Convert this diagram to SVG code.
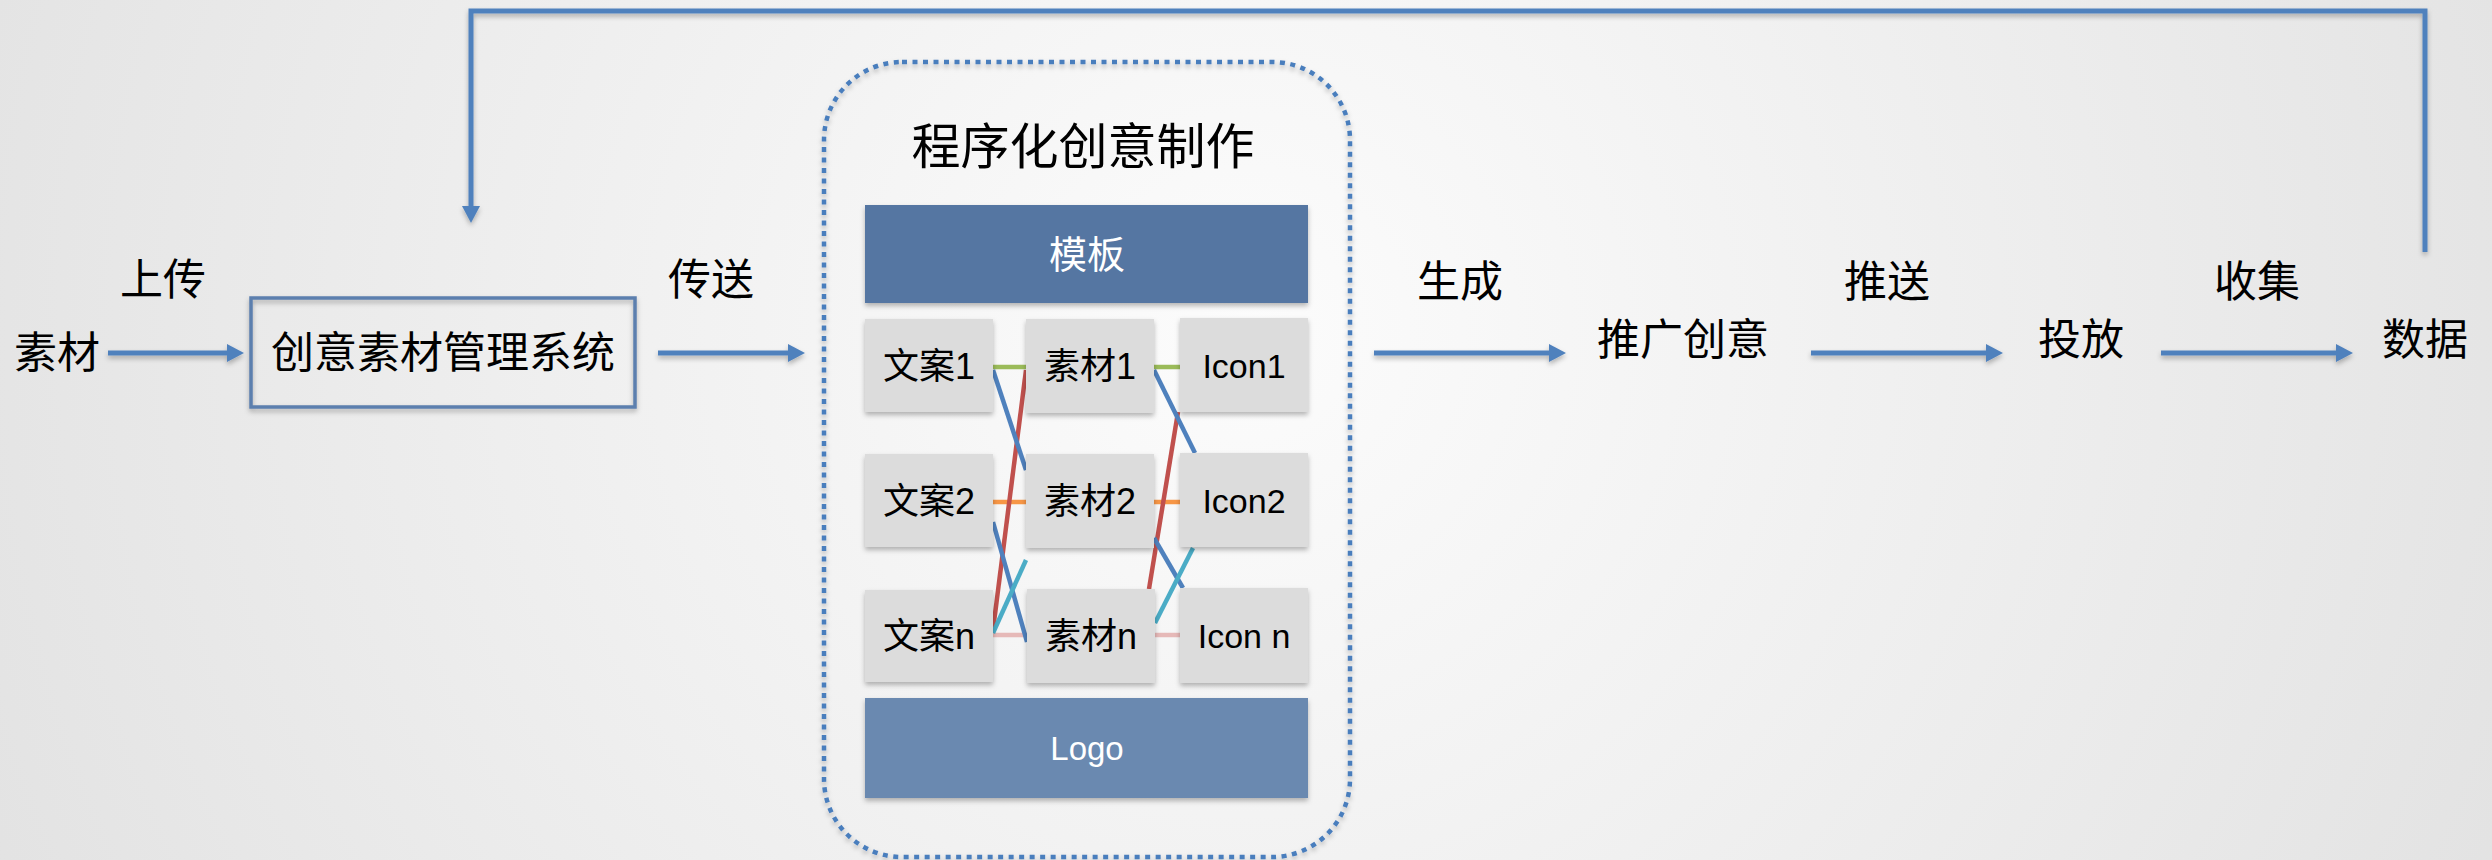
<svg xmlns="http://www.w3.org/2000/svg" width="2492" height="860" viewBox="0 0 2492 860">
<defs>
<radialGradient id="bg" gradientUnits="userSpaceOnUse" cx="1246" cy="330" r="1400">
<stop offset="0" stop-color="#fcfcfc"/>
<stop offset="1" stop-color="#e2e2e2"/>
</radialGradient>
<filter id="sh" filterUnits="userSpaceOnUse" x="0" y="0" width="2492" height="860">
<feDropShadow dx="0" dy="3" stdDeviation="2.5" flood-color="#000" flood-opacity="0.28"/>
</filter>
<marker id="ah" markerUnits="userSpaceOnUse" markerWidth="17" markerHeight="18" refX="0" refY="9" orient="auto" viewBox="0 0 17 18">
<path d="M0,0 L17,9 L0,18 z" fill="#4f81bd"/>
</marker>
<style>
text{font-family:"Liberation Sans","Noto Sans CJK SC",sans-serif;text-anchor:middle;dominant-baseline:central;fill:#000}
.lbl{font-size:43px}
.cell{fill:#dcdcdc;filter:url(#sh)}
.ct{font-size:36px}
.it{font-size:34px}
.bar1{fill:#5576a2;filter:url(#sh)}
.bar2{fill:#6a89b0;filter:url(#sh)}
.wt{fill:#fff}
.flow{stroke:#4f81bd;stroke-width:5;fill:none;filter:url(#sh)}
.x{stroke-width:4.5;fill:none}
</style>
</defs>
<rect x="0" y="0" width="2492" height="860" fill="url(#bg)"/>

<g id="connectors">
<polyline class="flow" points="2425,252 2425,11 471,11 471,206" marker-end="url(#ah)"/>
<line class="flow" x1="108" y1="353" x2="227" y2="353" marker-end="url(#ah)"/>
<line class="flow" x1="658" y1="353" x2="788" y2="353" marker-end="url(#ah)"/>
<line class="flow" x1="1374" y1="353" x2="1549" y2="353" marker-end="url(#ah)"/>
<line class="flow" x1="1811" y1="353" x2="1986" y2="353" marker-end="url(#ah)"/>
<line class="flow" x1="2161" y1="353" x2="2336" y2="353" marker-end="url(#ah)"/>
<g id="edge-labels">
<text class="lbl" x="163" y="280">上传</text>
<text class="lbl" x="711" y="280">传送</text>
<text class="lbl" x="1460" y="282">生成</text>
<text class="lbl" x="1887" y="282">推送</text>
<text class="lbl" x="2257" y="282">收集</text>
</g>
<g id="matrix-links">
<line class="x" stroke="#9bbb59" x1="993" y1="367" x2="1026" y2="367"/>
<line class="x" stroke="#9bbb59" x1="1154" y1="367" x2="1180" y2="367"/>
<line class="x" stroke="#f79646" x1="993" y1="502" x2="1026" y2="502"/>
<line class="x" stroke="#f79646" x1="1154" y1="502" x2="1180" y2="502"/>
<line class="x" stroke="#e6b9b8" x1="993" y1="635" x2="1027" y2="635"/>
<line class="x" stroke="#e6b9b8" x1="1155" y1="635" x2="1180" y2="635"/>
<line class="x" stroke="#c0504d" x1="1026" y1="370" x2="993" y2="630"/>
<line class="x" stroke="#4f81bd" x1="993" y1="370" x2="1026" y2="470"/>
<line class="x" stroke="#4f81bd" x1="993" y1="522" x2="1027" y2="642"/>
<line class="x" stroke="#4bacc6" x1="993" y1="633" x2="1026" y2="560"/>
<line class="x" stroke="#c0504d" x1="1149" y1="589" x2="1178" y2="412"/>
<line class="x" stroke="#4f81bd" x1="1154" y1="370" x2="1195" y2="453"/>
<line class="x" stroke="#4f81bd" x1="1154" y1="538" x2="1183" y2="588"/>
<line class="x" stroke="#4bacc6" x1="1155" y1="623" x2="1193" y2="548"/>
</g>
</g>

<g id="n-sucai"><text class="lbl" x="57" y="353">素材</text></g>

<g id="n-cms">
<rect x="251" y="298" width="384" height="109" fill="none" stroke="#5b7fae" stroke-width="3.5" filter="url(#sh)"/>
<text class="lbl" x="443" y="353">创意素材管理系统</text>
</g>

<g id="n-pcp">
<rect x="824" y="62" width="526" height="795" rx="78" ry="78" fill="none" stroke="#4a7ebd" stroke-width="4.5" stroke-dasharray="5 5.5" filter="url(#sh)"/>
<text x="1083" y="147" style="font-size:49px">程序化创意制作</text>
</g>

<g id="n-template"><rect class="bar1" x="865" y="205" width="443" height="98"/><text class="wt" x="1087" y="255" style="font-size:38px">模板</text></g>

<g id="n-wenan1"><rect class="cell" x="865" y="319" width="128" height="93"/><text class="ct" x="929" y="366">文案1</text></g>
<g id="n-sucai1"><rect class="cell" x="1026" y="319" width="128" height="94"/><text class="ct" x="1090" y="366">素材1</text></g>
<g id="n-icon1"><rect class="cell" x="1180" y="318" width="128" height="94"/><text class="it" x="1244" y="366">Icon1</text></g>

<g id="n-wenan2"><rect class="cell" x="865" y="454" width="128" height="93"/><text class="ct" x="929" y="501">文案2</text></g>
<g id="n-sucai2"><rect class="cell" x="1026" y="454" width="128" height="94"/><text class="ct" x="1090" y="501">素材2</text></g>
<g id="n-icon2"><rect class="cell" x="1180" y="453" width="128" height="94"/><text class="it" x="1244" y="501">Icon2</text></g>

<g id="n-wenann"><rect class="cell" x="865" y="590" width="128" height="92"/><text class="ct" x="929" y="636">文案n</text></g>
<g id="n-sucain"><rect class="cell" x="1027" y="589" width="128" height="94"/><text class="ct" x="1091" y="636">素材n</text></g>
<g id="n-iconn"><rect class="cell" x="1180" y="588" width="128" height="95"/><text class="it" x="1244" y="636">Icon n</text></g>

<g id="n-logo"><rect class="bar2" x="865" y="698" width="443" height="100"/><text class="wt" x="1087" y="748" style="font-size:33px">Logo</text></g>

<g id="n-tuiguang"><text class="lbl" x="1683" y="340">推广创意</text></g>
<g id="n-toufang"><text class="lbl" x="2081" y="340">投放</text></g>
<g id="n-shuju"><text class="lbl" x="2425" y="340">数据</text></g>
</svg>
